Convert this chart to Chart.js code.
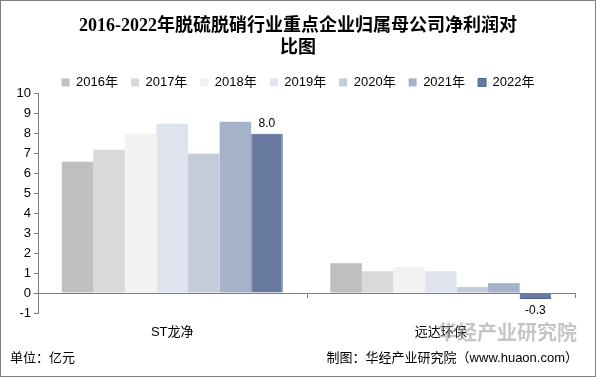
<!DOCTYPE html>
<html>
<head>
<meta charset="utf-8">
<script src="https://cdn.jsdelivr.net/npm/chart.js@4"></script>
<style>
  html, body { margin: 0; padding: 0; background: #fff; }
  #wrap { position: relative; width: 596px; height: 377px; box-sizing: border-box; border: 1px solid #7f7f7f; }
  canvas { display: block; }
</style>
</head>
<body>
<div id="wrap"><canvas id="myChart" width="594" height="375"></canvas></div>
<script>
// 数据
const companies = ["ST龙净", "远达环保"];
const years = ["2016年", "2017年", "2018年", "2019年", "2020年", "2021年", "2022年"];
const v2016 = [6.6, 1.5];
const v2017 = [7.2, 1.1];
const v2018 = [8.0, 1.3];
const v2019 = [8.5, 1.1];
const v2020 = [7.0, 0.3];
const v2021 = [8.6, 0.5];
const v2022 = [8.0, -0.3];
const yTicks = [-1, 0, 1, 2, 3, 4, 5, 6, 7, 8, 9, 10];

const colores = ['#BFBFBF', '#D9D9D9', '#F2F2F2', '#DEE3ED', '#C4CBDB', '#A6B2CA', '#68799F'];
const series = [v2016, v2017, v2018, v2019, v2020, v2021, v2022];

const fontSans = '"Liberation Sans", "Noto Sans CJK SC", sans-serif';

const datasets = series.map((valores, i) => ({
  label: years[i],
  data: valores,
  backgroundColor: colores[i],
  borderColor: i === 6 ? '#4F6290' : colores[i],
  borderWidth: i === 6 ? 1 : 0,
  categoryPercentage: 0.823,
  barPercentage: 1.0
}));

// línea del cero, marcas del eje x, etiquetas y pie
const extras = {
  id: 'extras',
  afterDatasetsDraw(chart) {
    const ctx = chart.ctx;
    const x = chart.scales.x;
    const y = chart.scales.y;
    const y0 = y.getPixelForValue(0);
    ctx.save();
    ctx.strokeStyle = '#7f7f7f';
    ctx.lineWidth = 1;
    ctx.beginPath();
    ctx.moveTo(chart.chartArea.left, Math.round(y0) + 0.5);
    ctx.lineTo(chart.chartArea.right, Math.round(y0) + 0.5);
    const n = companies.length;
    for (let i = 0; i <= n; i++) {
      const px = Math.round(x.left + i * (x.width / n)) + 0.5;
      ctx.moveTo(px, y0);
      ctx.lineTo(px, y0 + 5);
    }
    ctx.stroke();

    // etiquetas de 2022
    const meta = chart.getDatasetMeta(6);
    ctx.fillStyle = '#000';
    ctx.font = '12px ' + fontSans;
    ctx.textAlign = 'center';
    meta.data.forEach((bar, i) => {
      const v = v2022[i];
      if (v >= 0) {
        ctx.textBaseline = 'bottom';
        ctx.fillText(v.toFixed(1), bar.x, bar.y - 4);
      } else {
        ctx.textBaseline = 'top';
        ctx.fillText(v.toFixed(1), bar.x, bar.y + 6);
      }
    });
    ctx.restore();
  },
  afterDraw(chart) {
    const ctx = chart.ctx;
    ctx.save();
    // marca de agua
    ctx.fillStyle = 'rgba(150,150,150,0.55)';
    ctx.font = 'bold 20px "Noto Sans CJK SC", sans-serif';
    ctx.textAlign = 'left';
    ctx.textBaseline = 'middle';
    ctx.fillText('华经产业研究院', 436, 331);
    // pie
    ctx.fillStyle = '#000';
    ctx.font = '13px ' + fontSans;
    ctx.textAlign = 'left';
    ctx.fillText('单位：亿元', 9, 357);
    ctx.textAlign = 'right';
    ctx.fillText('制图：华经产业研究院（www.huaon.com）', 577, 357);
    ctx.restore();
  }
};

new Chart(document.getElementById('myChart'), {
  type: 'bar',
  data: { labels: companies, datasets: datasets },
  options: {
    responsive: false,
    animation: false,
    layout: { padding: { left: 14, right: 14, top: 8, bottom: 22 } },
    plugins: {
      title: {
        display: true,
        text: ['2016-2022年脱硫脱硝行业重点企业归属母公司净利润对', '比图'],
        color: '#000',
        font: { family: '"Liberation Serif", "Noto Sans CJK SC", serif', size: 18, weight: 'bold', lineHeight: 1.22 },
        padding: { top: 6, bottom: 4 }
      },
      legend: {
        position: 'top',
        maxHeight: 31,
        labels: {
          boxWidth: 8,
          boxHeight: 8,
          padding: 13,
          color: '#000',
          font: { family: fontSans, size: 13 }
        }
      },
      tooltip: { enabled: false }
    },
    scales: {
      x: {
        grid: { display: false },
        border: { display: false },
        ticks: { color: '#000', font: { family: fontSans, size: 13 }, padding: 4 },
        afterFit(scale) { scale.height = 41; }
      },
      y: {
        min: -1,
        max: 10,
        afterBuildTicks(scale) { scale.ticks = yTicks.map(v => ({ value: v })); },
        grid: { drawOnChartArea: false, drawTicks: true, tickLength: 4, color: '#7f7f7f' },
        border: { display: true, color: '#7f7f7f', width: 1 },
        ticks: { color: '#000', font: { family: fontSans, size: 13 }, padding: 3 },
        afterFit(scale) { scale.width = 23; }
      },
      yRight: {
        position: 'right',
        grid: { display: false },
        border: { display: false },
        ticks: { display: false },
        afterFit(scale) { scale.width = 6; }
      }
    }
  },
  plugins: [extras]
});
</script>
</body>
</html>
